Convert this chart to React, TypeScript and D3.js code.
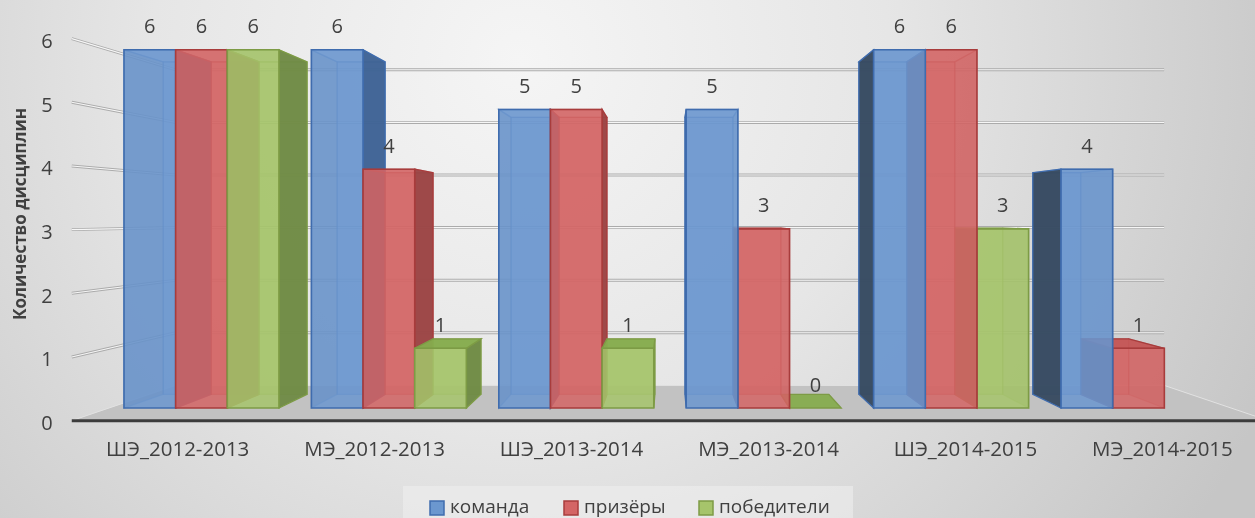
import React from 'react';
import * as d3 from 'd3';

// ---------- data ----------
const categories = ['ШЭ_2012-2013', 'МЭ_2012-2013', 'ШЭ_2013-2014', 'МЭ_2013-2014', 'ШЭ_2014-2015', 'МЭ_2014-2015'];
const seriesNames = ['команда', 'призёры', 'победители'];
const komanda: (number | null)[] = [6, 6, 5, 5, 6, 4];
const prizery: (number | null)[] = [6, 4, 5, 3, 6, 1];
const pobediteli: (number | null)[] = [6, 1, 1, 0, 3, null];
const yTicks = [0, 1, 2, 3, 4, 5, 6];
const yTitle = 'Количество дисциплин';

const seriesValues = [komanda, prizery, pobediteli];

// ---------- styles ----------
const W = 1255;
const H = 518;
const VX = 669; // vanishing point
const VY = 218;
const S_AXIS = 1.0665; // front edge of floor / left wall
const S_BACK = 0.928; // back face of bars
const S_WALL = 0.881; // back wall
const S_LABEL = 1.051; // category labels
const FONT = '"Open Sans", "Noto Sans", sans-serif';
const TEXT = '#404040';

const palettes = [
  { front: '#6b97cf', stroke: '#3f6cae', top: '#5f8bc4', sideR: '#3e6293', sideL: '#36495f', back: '#6b97cf' },
  { front: '#d46565', stroke: '#a83c3c', top: '#c45656', sideR: '#9a4545', sideL: '#8a3c3c', back: '#d46565' },
  { front: '#a6c46b', stroke: '#7d9b45', top: '#86ac4e', sideR: '#6f8a45', sideL: '#6a8442', back: '#a6c46b' },
];

// ---------- scales ----------
const x = d3.scaleBand<string>().domain(categories).range([109, 1231]).paddingInner(0.173).paddingOuter(0.08);
const xs = d3.scaleBand<string>().domain(seriesNames).range([0, x.bandwidth()]);
const y = d3.scaleLinear().domain([0, 6]).range([408, 49.8]);

const P = (px: number, py: number, s: number): [number, number] => [VX + (px - VX) * s, VY + (py - VY) * s];
const poly = (pts: [number, number][]) => 'M' + pts.map((p) => p[0].toFixed(2) + ',' + p[1].toFixed(2)).join('L') + 'Z';

type Bar = { ci: number; si: number; v: number; x0: number; x1: number };

const bars: Bar[] = [];
categories.forEach((c, ci) => {
  seriesNames.forEach((s, si) => {
    const v = seriesValues[si][ci];
    if (v === null || v === undefined) return;
    const x0 = (x(c) as number) + (xs(s) as number);
    bars.push({ ci, si, v, x0, x1: x0 + xs.bandwidth() });
  });
});
// far bars first
bars.sort((a, b) => Math.abs(b.x0 + b.x1 - 2 * VX) - Math.abs(a.x0 + a.x1 - 2 * VX));

function BarShape({ b }: { b: Bar }) {
  const pal = palettes[b.si];
  const yT = y(b.v);
  const yB = y(0);
  const A = P(b.x0, yT, 1), B = P(b.x1, yT, 1), C = P(b.x1, yB, 1), D = P(b.x0, yB, 1);
  const A2 = P(b.x0, yT, S_BACK), B2 = P(b.x1, yT, S_BACK), C2 = P(b.x1, yB, S_BACK), D2 = P(b.x0, yB, S_BACK);
  const rightVisible = b.x1 < VX;
  const leftVisible = b.x0 > VX;
  const topVisible = yT > VY;
  const sw = 1.3;
  const faces: React.ReactNode[] = [];
  if (b.v > 0) faces.push(<path key="bk" d={poly([A2, B2, C2, D2])} fill={pal.back} fillOpacity={0.55} stroke={pal.stroke} strokeWidth={sw} strokeOpacity={0.5} />);
  if (!rightVisible) faces.push(<path key="rh" d={poly([B, B2, C2, C])} fill={pal.sideR} fillOpacity={0.3} stroke={pal.stroke} strokeWidth={sw} strokeOpacity={0.4} />);
  if (!leftVisible) faces.push(<path key="lh" d={poly([A, A2, D2, D])} fill={pal.sideL} fillOpacity={0.3} stroke={pal.stroke} strokeWidth={sw} strokeOpacity={0.4} />);
  if (!topVisible) faces.push(<path key="th" d={poly([A, B, B2, A2])} fill={pal.top} fillOpacity={0.3} stroke={pal.stroke} strokeWidth={sw} strokeOpacity={0.5} />);
  if (rightVisible) faces.push(<path key="rv" d={poly([B, B2, C2, C])} fill={pal.sideR} fillOpacity={0.95} stroke={pal.stroke} strokeWidth={sw} />);
  if (leftVisible) faces.push(<path key="lv" d={poly([A, A2, D2, D])} fill={pal.sideL} fillOpacity={0.95} stroke={pal.stroke} strokeWidth={sw} />);
  if (topVisible) faces.push(<path key="tv" d={poly([A, B, B2, A2])} fill={pal.top} fillOpacity={0.95} stroke={pal.stroke} strokeWidth={sw} />);
  if (b.v > 0) faces.push(<path key="fr" d={poly([A, B, C, D])} fill={pal.front} fillOpacity={0.85} stroke={pal.stroke} strokeWidth={1.6} />);
  return <g>{faces}</g>;
}

export default function App() {
  const xL = x.range()[0];
  const xR = x.range()[1];
  const y0 = y(0);
  const floorPts: [number, number][] = [P(xL, y0, S_AXIS), P(xL, y0, S_WALL), P(xR, y0, S_WALL), P(xR, y0, S_AXIS)];
  const axisY = P(xL, y0, S_AXIS)[1];

  const legendItems = seriesNames.map((n, i) => ({ n, i }));
  const legendX = [430, 564, 699];

  return (
    <svg width={W} height={H} style={{ position: 'fixed', left: 0, top: 0 }} fontFamily={FONT}>
      <defs>
        <radialGradient id="bg" gradientUnits="userSpaceOnUse" cx={520} cy={60} r={820}>
          <stop offset="0" stopColor="#f5f5f5" />
          <stop offset="0.45" stopColor="#e6e6e6" />
          <stop offset="1" stopColor="#c6c6c6" />
        </radialGradient>
      </defs>
      <rect x={0} y={0} width={W} height={H} fill="url(#bg)" />

      {/* floor */}
      <path d={poly(floorPts)} fill="#c2c2c2" stroke="#e2e2e2" strokeWidth={1} />

      {/* gridlines: left wall + back wall */}
      {yTicks.filter((t) => t > 0).map((t) => {
        const p1 = P(xL, y(t), S_AXIS);
        const p2 = P(xL, y(t), S_WALL);
        const p3 = P(xR, y(t), S_WALL);
        const d = `M${p1[0]},${p1[1]}L${p2[0]},${p2[1]}L${p3[0]},${p3[1]}`;
        return (
          <g key={t}>
            <path d={d} fill="none" stroke="#ababab" strokeWidth={3} strokeLinejoin="round" />
            <path d={d} fill="none" stroke="#f6f6f6" strokeWidth={1.1} strokeLinejoin="round" />
          </g>
        );
      })}

      {/* axis front line */}
      <line x1={P(xL, y0, S_AXIS)[0]} x2={W} y1={axisY} y2={axisY} stroke="#3c3c3c" strokeWidth={3} />

      {/* bars */}
      {bars.map((b) => (
        <BarShape key={b.ci + '-' + b.si} b={b} />
      ))}

      {/* value labels */}
      {bars.map((b) => (
        <text key={'v' + b.ci + '-' + b.si} x={(b.x0 + b.x1) / 2} y={y(b.v) - 24} textAnchor="middle" dominantBaseline="central" fontSize={20} fill={TEXT}>
          {b.v}
        </text>
      ))}

      {/* y tick labels */}
      {yTicks.map((t) => (
        <text key={'t' + t} x={47} y={P(xL, y(t), S_AXIS)[1] + 2} textAnchor="middle" dominantBaseline="central" fontSize={20} fill={TEXT}>
          {t}
        </text>
      ))}

      {/* category labels */}
      {categories.map((c) => (
        <text key={c} x={P((x(c) as number) + x.bandwidth() / 2, y0, S_LABEL)[0]} y={456} textAnchor="middle" fontSize={20.5} fill={TEXT}>
          {c}
        </text>
      ))}

      {/* y title */}
      <text transform="translate(19,214) rotate(-90)" textAnchor="middle" dominantBaseline="central" fontSize={17} fontWeight="bold" fill={TEXT}>
        {yTitle}
      </text>

      {/* legend */}
      <rect x={403} y={486} width={450} height={40} fill="#eeeeee" fillOpacity={0.6} />
      {legendItems.map(({ n, i }) => (
        <g key={n}>
          <rect x={legendX[i]} y={501} width={14} height={14} fill={palettes[i].front} stroke={palettes[i].stroke} strokeWidth={1.5} />
          <text x={legendX[i] + 20} y={513} fontSize={19} fill={TEXT}>
            {n}
          </text>
        </g>
      ))}
    </svg>
  );
}
